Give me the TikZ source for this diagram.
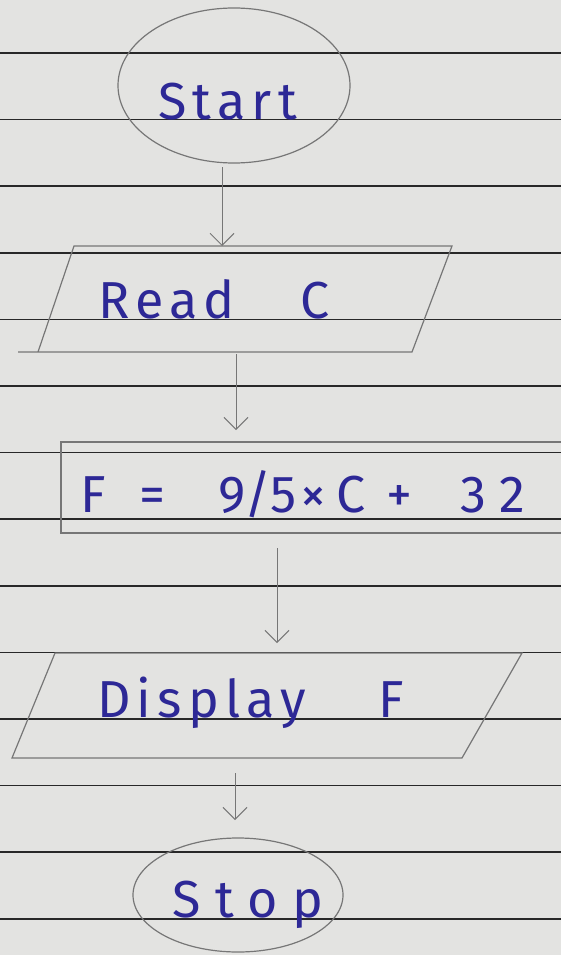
\documentclass[tikz,border=0pt]{standalone}
\usepackage{fontspec}
\setmainfont{Fira Sans}
\newfontfamily\handfont[LetterSpace=12]{Fira Sans}
\newfontfamily\wideshand[LetterSpace=28]{Fira Sans}
\newfontfamily\formfont{Fira Sans}
\usetikzlibrary{shapes.geometric,arrows.meta}
\definecolor{paper}{RGB}{227,227,225}
\definecolor{rulec}{RGB}{40,40,40}
\definecolor{pencil}{RGB}{118,118,118}
\definecolor{ink}{RGB}{45,40,150}
\begin{document}
\begin{tikzpicture}[x=1pt,y=-1pt,
  shapeline/.style={draw=pencil, line width=1.2pt},
  box/.style={inner sep=0pt, outer sep=0pt},
  handtext/.style={text=ink, inner sep=0pt, anchor=base west, font=\fontsize{52}{52}\selectfont\handfont},
  arr/.style={draw=pencil, line width=1pt, -{Straight Barb[length=12pt,width=24pt]}},
]
\useasboundingbox (0,0) rectangle (561,955);
\fill[paper] (0,0) rectangle (561,955);
\clip (0,0) rectangle (561,955);
% ruled paper
\foreach \k in {0,...,13} \draw[rulec, line width=1.5pt] (0,{53+66.6*\k}) -- (561,{53+66.6*\k});

% shapes
\node[box, shapeline, ellipse, minimum width=232pt, minimum height=155pt] (start) at (234,85.5) {};
\node[box, minimum width=414pt, minimum height=106pt] (read) at (245,299) {};
\draw[shapeline] (read.south west) -- ([xshift=36pt]read.north west) -- (read.north east)
   -- ([xshift=-40pt]read.south east) -- ([xshift=-20pt]read.south west);
\node[box, shapeline, rectangle, minimum width=539pt, minimum height=91pt] (calc) at (330.5,487.5) {};
\node[box, minimum width=510pt, minimum height=105pt] (disp) at (267,705.5) {};
\draw[shapeline] (disp.south west) -- ([xshift=43pt]disp.north west) -- (disp.north east)
   -- ([xshift=-60pt]disp.south east) -- cycle;
\node[box, shapeline, ellipse, minimum width=210pt, minimum height=114pt] (stop) at (238,895) {};

% texts
\node[handtext] (starttext) at (158,120) {Start};
\node[handtext] (readtext) at (98,318) {Read\hspace{66pt}C};
\node[handtext, font=\fontsize{52}{52}\selectfont\formfont] (calctext) at (80,512)
  {F\hspace{34pt}=\hspace{53pt}9/5\hspace{4pt}×\hspace{11pt}C\hspace{20pt}+\hspace{48pt}3\hspace{14pt}2};
\node[handtext] (disptext) at (97,717) {Display\hspace{72pt}F};
\node[handtext, font=\fontsize{52}{52}\selectfont\wideshand] (stoptext) at (172,917) {Stop};

% connectors
\coordinate (ax1) at (222,0);
\coordinate (ax2) at (236,0);
\coordinate (ax3) at (277,0);
\coordinate (ax4) at (235,0);
\draw[arr, shorten <=4pt] (start.south -| ax1) -- (read.north -| ax1);
\draw[arr, shorten <=2pt, shorten >=12pt] (read.south -| ax2) -- (calc.north -| ax2);
\draw[arr, shorten <=15pt, shorten >=10pt] (calc.south -| ax3) -- (disp.north -| ax3);
\draw[arr, shorten <=15pt, shorten >=18pt] (disp.south -| ax4) -- (stop.north -| ax4);
\end{tikzpicture}
\end{document}
